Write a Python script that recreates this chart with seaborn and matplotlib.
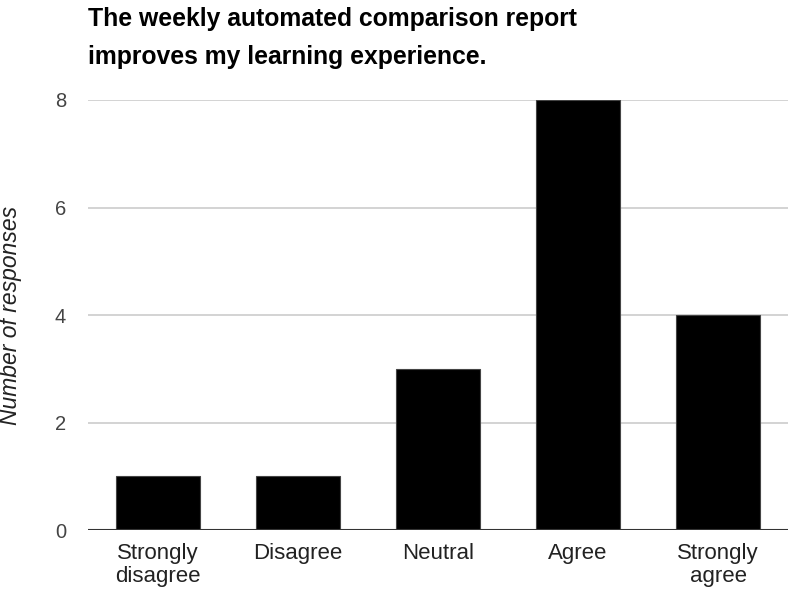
import matplotlib
matplotlib.use("Agg")
import matplotlib.pyplot as plt
import seaborn as sns

categories = ["Strongly\ndisagree", "Disagree", "Neutral", "Agree", "Strongly\nagree"]
responses = [1, 1, 3, 8, 4]
y_ticks = [0, 2, 4, 6, 8]


def main():
    sns.set_style("white")
    plt.rcParams["font.family"] = ["Liberation Sans", "DejaVu Sans"]

    fig = plt.figure(figsize=(7.88, 5.97), dpi=100)
    ax = fig.add_axes([0.112, 0.1122, 0.888, 0.7203])

    sns.barplot(x=categories, y=responses, color="black", width=0.6,
                edgecolor="#444444", linewidth=0.8, saturation=1, ax=ax, zorder=3)

    ax.set_ylim(0, 8)
    ax.set_xlim(-0.5, 4.5)
    ax.set_yticks(y_ticks)
    ax.yaxis.grid(True, color="#cccccc", linewidth=1.2, zorder=0)
    ax.axhline(0, color="#333333", linewidth=1.5, zorder=4)
    for side in ["top", "right", "left", "bottom"]:
        ax.spines[side].set_visible(False)
    ax.tick_params(axis="both", length=0)
    ax.tick_params(axis="y", pad=16, labelsize=14.5, colors="#444444")
    ax.tick_params(axis="x", pad=9, labelsize=16, colors="#222222")
    for lbl in ax.get_xticklabels():
        lbl.set_linespacing(1.15)
    ax.set_ylabel("Number of responses", fontsize=16.5, style="italic",
                  color="#222222")
    ax.yaxis.set_label_coords(-0.094, 0.5)

    fig.text(0.1117, 0.988, "The weekly automated comparison report\nimproves my learning experience.",
             fontsize=17.8, fontweight="bold", ha="left", va="top",
             linespacing=1.72, color="black")

    plt.savefig("out.png", dpi=100)


if __name__ == "__main__":
    main()
